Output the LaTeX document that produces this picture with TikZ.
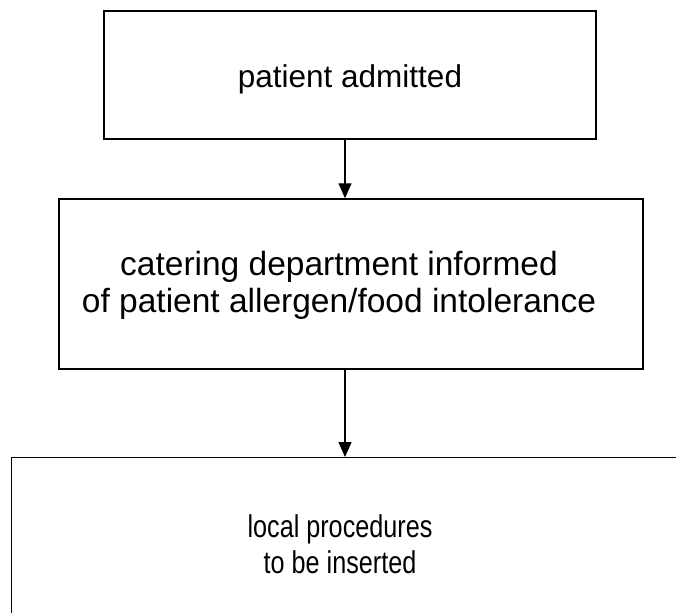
\documentclass[tikz,border=0pt]{standalone}
\usepackage{fontspec}
\setmainfont{Liberation Sans}
\newfontfamily\narrowsans[FakeStretch=0.8]{Liberation Sans}
\usetikzlibrary{arrows.meta}
\begin{document}
\begin{tikzpicture}[x=1pt,y=-1pt,
  boxline/.style={draw=black,line width=1.4pt},
  lbl/.style={anchor=base,inner sep=0pt,font=\fontsize{31.5}{37}\selectfont},
  lblbig/.style={anchor=base,inner sep=0pt,font=\fontsize{33.5}{37}\selectfont},
  lblnarrow/.style={anchor=base,inner sep=0pt,font=\narrowsans\fontsize{31.5}{37}\selectfont},
  conn/.style={line width=1.3pt,-{Triangle[length=15pt,width=13pt]}}]
\useasboundingbox (0,0) rectangle (676,612);
\clip (0,0) rectangle (676,612);
\node[boxline,minimum width=492pt,minimum height=128pt,inner sep=0pt] (b1) at (350,75) {};
\node[boxline,minimum width=584pt,minimum height=170pt,inner sep=0pt] (b2) at (351,284) {};
\node[boxline,minimum width=690pt,minimum height=200pt,inner sep=0pt,anchor=north west] (b3) at (11,457) {};
\node[lbl] (t1) at (350,88) {patient admitted};
\node[lblbig] (t2a) at (339,275) {catering department informed};
\node[lblbig] (t2b) at (339,312) {of patient allergen/food intolerance};
\node[lblnarrow] (t3a) at (340,537) {local procedures};
\node[lblnarrow] (t3b) at (340,573) {to be inserted};
\coordinate (ax) at (345,0);
\draw[conn] (b1.south -| ax) -- (b2.north -| ax);
\draw[conn] (b2.south -| ax) -- (b3.north -| ax);
\end{tikzpicture}
\end{document}
